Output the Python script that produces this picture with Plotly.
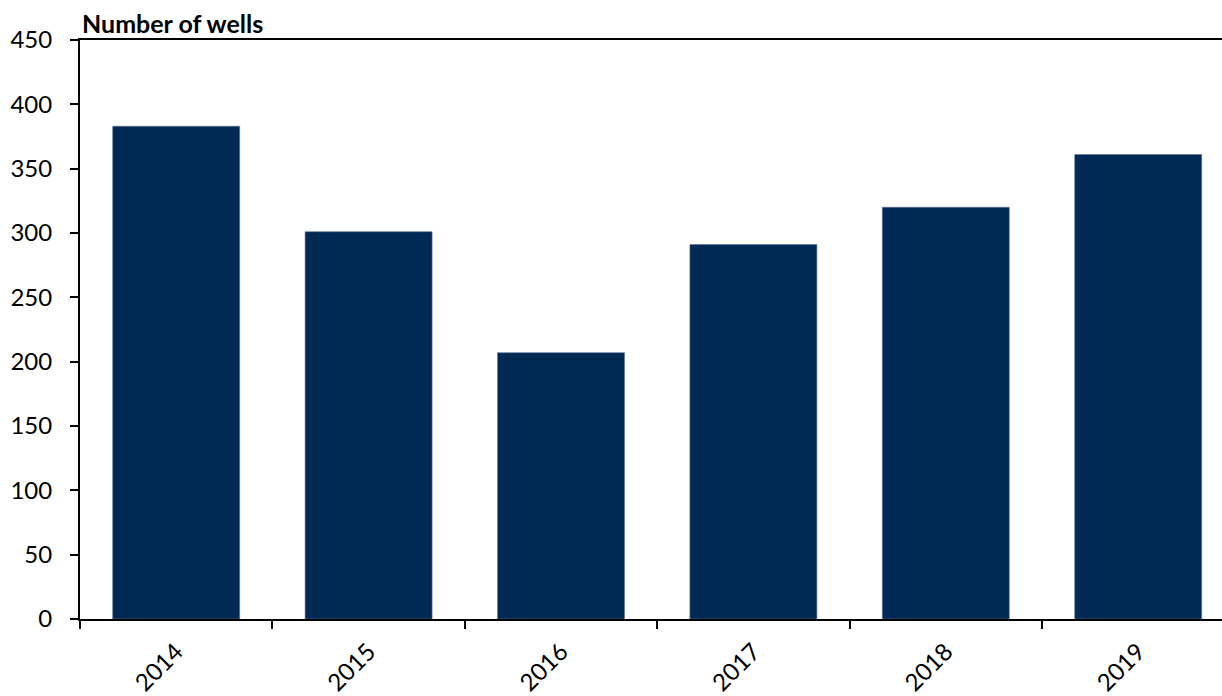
import plotly.graph_objects as go

# Number of wells drilled per year
years = ["2014", "2015", "2016", "2017", "2018", "2019"]
wells = [383, 301, 207, 291, 320, 361]

BAR_COLOR = "#002954"
FONT = "Lato"

fig = go.Figure(
    go.Bar(
        x=years,
        y=wells,
        marker=dict(color=BAR_COLOR, line=dict(color="#5a7494", width=0.6)),
        width=0.66,
    )
)

# plot area is 80px from the left; each category is ~192px wide and the
# axis runs off the right edge of the page
cat_px = 192.4
fig_w, fig_h = 1222, 696
left, top, bottom = 80, 40, 77
x_end = -0.5 + (fig_w - left) / cat_px

fig.update_layout(
    width=fig_w,
    height=fig_h,
    margin=dict(l=left, r=0, t=top, b=bottom, autoexpand=False),
    plot_bgcolor="white",
    paper_bgcolor="white",
    font=dict(family=FONT, size=23, color="#000000"),
    showlegend=False,
    xaxis=dict(
        type="category",
        range=[-0.5, x_end],
        showline=True,
        linecolor="black",
        linewidth=2,
        mirror=True,
        ticks="outside",
        tickson="boundaries",
        ticklen=8,
        tickwidth=1.5,
        tickcolor="black",
        tickangle=-45,
        showgrid=False,
        automargin=False,
        tickfont=dict(family=FONT, size=24),
        ticklabelstandoff=7,
    ),
    yaxis=dict(
        range=[0, 450],
        tickvals=[0, 50, 100, 150, 200, 250, 300, 350, 400, 450],
        showline=True,
        linecolor="black",
        linewidth=2,
        ticks="outside",
        ticklen=8,
        tickwidth=1.5,
        tickcolor="black",
        showgrid=False,
        zeroline=False,
        automargin=False,
        tickfont=dict(family=FONT, size=24),
        ticklabelstandoff=13,
    ),
    annotations=[
        dict(
            text="<b>Number of wells</b>",
            xref="paper",
            yref="paper",
            x=0,
            y=1,
            xanchor="left",
            yanchor="bottom",
            yshift=0,
            showarrow=False,
            font=dict(family=FONT, size=25, color="black"),
        )
    ],
)

fig.write_html("out.html")
